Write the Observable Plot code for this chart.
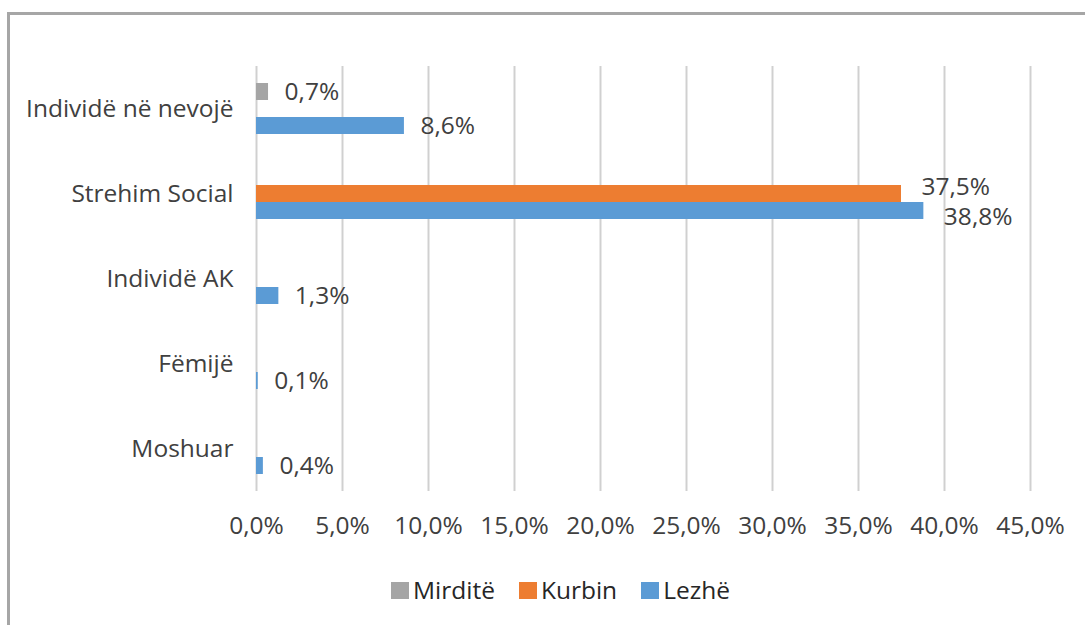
<!DOCTYPE html>
<html>
<head>
<meta charset="utf-8">
<script src="https://cdn.jsdelivr.net/npm/d3@7"></script>
<script src="https://cdn.jsdelivr.net/npm/@observablehq/plot@0.6"></script>
<style>
  html, body { margin: 0; padding: 0; background: #fff; }
  #wrap { position: relative; width: 1085px; height: 625px; overflow: hidden; background: #fff; }
  #frame { position: absolute; left: 7px; top: 12px; width: 1200px; height: 800px;
           border-top: 3px solid #a6a6a6; border-left: 3px solid #a6a6a6; box-sizing: border-box; }
  #chart { position: absolute; left: 0; top: 0; }
  #legend { position: absolute; left: 391px; top: 576px; display: flex; align-items: center;
            font-family: "Open Sans", sans-serif; font-size: 24.5px; color: #262626; line-height: 28px; }
  #legend .item { display: flex; align-items: center; margin-right: 24px; }
  #legend .sw { width: 18px; height: 17px; margin-right: 4px; }
</style>
</head>
<body>
<div id="wrap">
  <div id="frame"></div>
  <div id="chart"></div>
  <div id="legend"></div>
</div>
<script>
const categories = ["Individë në nevojë", "Strehim Social", "Individë AK", "Fëmijë", "Moshuar"];
const series = ["Mirditë", "Kurbin", "Lezhë"];
const mirdite = [0.7, 0, 0, 0, 0];
const kurbin = [0, 37.5, 0, 0, 0];
const lezhe = [8.6, 38.8, 1.3, 0.1, 0.4];
const seriesColors = ["#A5A5A5", "#ED7D31", "#5B9BD5"];
const xTicks = [0, 5, 10, 15, 20, 25, 30, 35, 40, 45];

const valuesBySeries = [mirdite, kurbin, lezhe];
const data = [];
categories.forEach((c, i) => {
  series.forEach((s, j) => {
    data.push({category: c, series: s, value: valuesBySeries[j][i]});
  });
});
const fmt = v => v.toFixed(1).replace(".", ",") + "%";
const shown = data.filter(d => d.value > 0);

const chart = Plot.plot({
  width: 1085,
  height: 560,
  marginLeft: 256,
  marginRight: 55,
  marginTop: 65,
  marginBottom: 68,
  style: {fontFamily: "Open Sans, sans-serif", fontSize: "24.5px", color: "#404040", background: "transparent"},
  x: {domain: [0, 45], ticks: xTicks, tickFormat: fmt, tickSize: 0, tickPadding: 25, label: null},
  y: {domain: series, paddingInner: 0, paddingOuter: 0.91, axis: null},
  fy: {domain: categories, padding: 0, tickSize: 0, tickPadding: 23, label: null},
  color: {domain: series, range: seriesColors},
  marks: [
    Plot.gridX(xTicks, {stroke: "#d0d0d0", strokeWidth: 2, strokeOpacity: 1}),
    Plot.barX(shown, {x: "value", y: "series", fy: "category", fill: "series", inset: 0}),
    Plot.text(shown.filter(d => d.category !== "Strehim Social"), {
      x: "value", y: "series", fy: "category", text: d => fmt(d.value),
      textAnchor: "start", dx: 16, fill: "#404040"
    }),
    Plot.text(shown.filter(d => d.category === "Strehim Social" && d.series === "Kurbin"), {
      x: "value", y: "series", fy: "category", text: d => fmt(d.value),
      textAnchor: "start", dx: 20, dy: -7, fill: "#404040"
    }),
    Plot.text(shown.filter(d => d.category === "Strehim Social" && d.series === "Lezhë"), {
      x: "value", y: "series", fy: "category", text: d => fmt(d.value),
      textAnchor: "start", dx: 20, dy: 6, fill: "#404040"
    })
  ]
});
document.getElementById("chart").appendChild(chart);

const legend = document.getElementById("legend");
series.forEach((s, j) => {
  const item = document.createElement("div");
  item.className = "item";
  const sw = document.createElement("div");
  sw.className = "sw";
  sw.style.background = seriesColors[j];
  const label = document.createElement("span");
  label.textContent = s;
  item.appendChild(sw);
  item.appendChild(label);
  legend.appendChild(item);
});
</script>
</body>
</html>
